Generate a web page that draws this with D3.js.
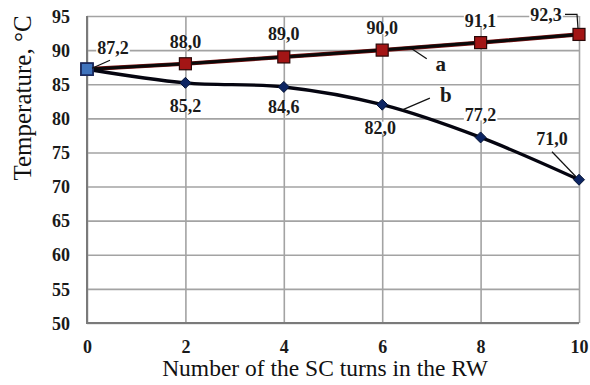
<!DOCTYPE html>
<html>
<head>
<meta charset="utf-8">
<script src="https://cdn.jsdelivr.net/npm/d3@7"></script>
<style>
  html, body { margin: 0; padding: 0; background: #fff; }
  svg { display: block; }
  svg text { font-family: "Liberation Serif", "Times New Roman", serif; }
</style>
</head>
<body>
<svg id="chart" width="590" height="385"></svg>
<script>
// Number of SC turns in the RW
const turns = [0, 2, 4, 6, 8, 10];
// Curve a and curve b temperatures, °C
const seriesA = [87.2, 88.0, 89.0, 90.0, 91.1, 92.3];
const seriesB = [87.2, 85.2, 84.6, 82.0, 77.2, 71.0];
const yTicks = [50, 55, 60, 65, 70, 75, 80, 85, 90, 95];
const xTicks = [0, 2, 4, 6, 8, 10];
const seriesNames = ["a", "b"];

// Value label placement (offset from the point, px); null = no label
const labelOffA = [[26, -21], [0, -22], [0, -23], [0, -22], [0, -22], [-33, -20]];
const labelOffB = [null, [0, 23], [0, 20], [-2, 23], [0, -23], [-27, -41]];

const W = 590, H = 385;
const margin = { left: 87, right: 11, top: 16, bottom: 62 };
const svg = d3.select("#chart");
const SERIF = "'Liberation Serif', 'Times New Roman', serif";

const x = d3.scaleLinear().domain([0, 10]).range([margin.left, W - margin.right]);
const y = d3.scaleLinear().domain([50, 95]).range([H - margin.bottom, margin.top]);

const fmt = d3.formatLocale({ decimal: ",", thousands: " ", grouping: [3], currency: ["", ""] }).format(".1f");

const gridColor = "#a3a3a3";

// horizontal grid
svg.append("g")
  .attr("transform", `translate(${margin.left},0)`)
  .call(d3.axisLeft(y).tickValues(yTicks).tickSize(-(x(10) - x(0))).tickFormat(""))
  .call(g => g.select(".domain").remove())
  .call(g => g.selectAll("line").attr("stroke", gridColor).attr("stroke-width", 1.6));

// vertical grid
svg.append("g")
  .attr("transform", `translate(0,${y(50)})`)
  .call(d3.axisBottom(x).tickValues(xTicks).tickSize(-(y(50) - y(95))).tickFormat(""))
  .call(g => g.select(".domain").remove())
  .call(g => g.selectAll("line").attr("stroke", gridColor).attr("stroke-width", 1.6));

// axis frame (left + bottom)
svg.append("path")
  .attr("d", `M${x(0)},${y(95)}V${y(50)}H${x(10)}`)
  .attr("fill", "none").attr("stroke", "#7a7a7a").attr("stroke-width", 2);

// tick labels
const yAxis = svg.append("g")
  .attr("transform", `translate(${margin.left - 17},0)`)
  .call(d3.axisLeft(y).tickValues(yTicks).tickSize(0).tickPadding(0))
  .call(g => g.select(".domain").remove());
yAxis.selectAll("text")
  .style("font-family", SERIF).style("font-weight", "bold")
  .style("font-size", "18px").attr("fill", "#1a1a1a").attr("dy", "0.34em");

const xAxis = svg.append("g")
  .attr("transform", `translate(0,${y(50) + 17})`)
  .call(d3.axisBottom(x).tickValues(xTicks).tickSize(0).tickPadding(0))
  .call(g => g.select(".domain").remove());
xAxis.selectAll("text")
  .style("font-family", SERIF).style("font-weight", "bold")
  .style("font-size", "18px").attr("fill", "#1a1a1a").attr("dy", "0.71em");

// axis titles
svg.append("text")
  .attr("x", (x(0) + x(10)) / 2 - 8).attr("y", 376)
  .attr("text-anchor", "middle").style("font-size", "23.5px").attr("fill", "#111")
  .text("Number of the SC turns in the RW");

svg.append("text")
  .attr("transform", `translate(31,${98}) rotate(-90)`)
  .attr("text-anchor", "middle").style("font-size", "25px").attr("fill", "#111")
  .text("Temperature, °C");

const ptsA = turns.map((t, i) => [x(t), y(seriesA[i])]);
const ptsB = turns.map((t, i) => [x(t), y(seriesB[i])]);

// lines
svg.append("path")
  .attr("d", d3.line().curve(d3.curveLinear)(ptsA))
  .attr("fill", "none").attr("stroke", "#7a1010").attr("stroke-width", 4.2);
svg.append("path")
  .attr("d", d3.line().curve(d3.curveLinear)(ptsA))
  .attr("fill", "none").attr("stroke", "#0a0a0a").attr("stroke-width", 3);
const pathB = svg.append("path")
  .attr("d", d3.line().curve(d3.curveCatmullRom.alpha(0.5))(ptsB))
  .attr("fill", "none").attr("stroke", "#050510").attr("stroke-width", 3.4);

// y position of curve b at a given pixel x
function curveYAt(pathNode, px) {
  let lo = 0, hi = pathNode.getTotalLength();
  for (let k = 0; k < 40; k++) {
    const m = (lo + hi) / 2;
    if (pathNode.getPointAtLength(m).x < px) lo = m; else hi = m;
  }
  return pathNode.getPointAtLength(lo).y;
}

// leader lines
const leader = (d) => svg.append("path").attr("d", d)
  .attr("fill", "none").attr("stroke", "#111").attr("stroke-width", 1.2);

// value labels with white backing
function valueLabel(cx, cy, txt) {
  const g = svg.append("g");
  const t = g.append("text")
    .attr("x", cx).attr("y", cy).attr("dy", "0.34em")
    .attr("text-anchor", "middle").style("font-weight", "bold")
    .style("font-size", "18px").attr("fill", "#1a1a1a").text(txt);
  const b = t.node().getBBox();
  g.insert("rect", "text")
    .attr("x", b.x - 1).attr("y", cy - 6).attr("width", b.width + 2).attr("height", 12)
    .attr("fill", "#fff");
}

// markers for a
svg.append("g").selectAll("rect")
  .data(ptsA).join("rect")
  .attr("x", d => d[0] - 6).attr("y", d => d[1] - 6)
  .attr("width", 12).attr("height", 12)
  .attr("fill", "#a31515").attr("stroke", "#2a0808").attr("stroke-width", 1.2);

// markers for b: shared start point square, diamonds afterwards
svg.append("g").selectAll("path")
  .data(ptsB).join("path")
  .attr("d", (d, i) => i === 0
    ? `M${d[0] - 6},${d[1] - 6}h12v12h-12Z`
    : `M${d[0]},${d[1] - 5.5}L${d[0] + 5.5},${d[1]}L${d[0]},${d[1] + 5.5}L${d[0] - 5.5},${d[1]}Z`)
  .attr("fill", (d, i) => i === 0 ? "#3f73bd" : "#0d2563")
  .attr("stroke", (d, i) => i === 0 ? "#1a2a60" : "#061536")
  .attr("stroke-width", (d, i) => i === 0 ? 1.8 : 1);

seriesA.forEach((v, i) => {
  const o = labelOffA[i];
  if (o) valueLabel(ptsA[i][0] + o[0], ptsA[i][1] + o[1], fmt(v));
});
seriesB.forEach((v, i) => {
  const o = labelOffB[i];
  if (o) valueLabel(ptsB[i][0] + o[0], ptsB[i][1] + o[1], fmt(v));
});

// leaders for first, last-a and last-b labels
{
  const a0 = ptsA[0], aN = ptsA[5], bN = ptsB[5];
  leader(`M${a0[0] + 23},${a0[1] - 9}L${a0[0] + 5},${a0[1] - 1}`);
  leader(`M${aN[0] - 14},${aN[1] - 20}H${aN[0] - 2}L${aN[0] - 1},${aN[1] - 6}`);
  leader(`M${bN[0] - 27},${bN[1] - 28}L${bN[0] - 3},${bN[1] - 3}`);
}

// series names with leaders
const midA = 6.6;
const yAmid = y(seriesA[3] + (seriesA[4] - seriesA[3]) * (midA - 6) / 2);
leader(`M${x(midA)},${yAmid + 1}L${x(midA) + 15},${yAmid + 11}`);
svg.append("text").attr("x", x(midA) + 29).attr("y", yAmid + 16)
  .attr("text-anchor", "middle").style("font-weight", "bold").style("font-size", "21px")
  .attr("fill", "#1a1a1a").attr("dy", "0.34em").text(seriesNames[0]);

const midB = 6.4;
const yBmid = curveYAt(pathB.node(), x(midB));
leader(`M${x(midB)},${yBmid}L${x(midB) + 28},${yBmid - 12}`);
svg.append("text").attr("x", x(midB) + 44).attr("y", yBmid - 15)
  .attr("text-anchor", "middle").style("font-weight", "bold").style("font-size", "21px")
  .attr("fill", "#1a1a1a").attr("dy", "0.34em").text(seriesNames[1]);
</script>
</body>
</html>
